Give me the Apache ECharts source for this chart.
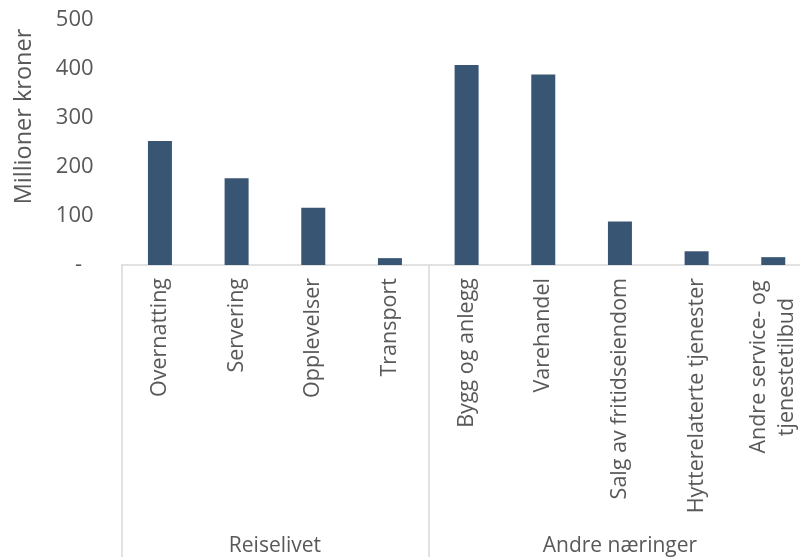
<!DOCTYPE html>
<html>
<head>
<meta charset="utf-8">
<script src="https://cdn.jsdelivr.net/npm/echarts@6/dist/echarts.min.js"></script>
<style>html,body{margin:0;padding:0;background:#fff}#c{width:800px;height:557px}</style>
</head>
<body>
<div id="c"></div>
<script>
const categories = ['Overnatting','Servering','Opplevelser','Transport','Bygg og anlegg','Varehandel','Salg av fritidseiendom','Hytterelaterte tjenester','Andre service- og\ntjenestetilbud'];
const values = [253,177,117,14,408,389,89,28,16];
const groups = ['Reiselivet','Andre næringer'];
const groupSizes = [4,5];
const yMax = 500;
const yStep = 100;

const boundaries = [0];
const groupCenters = [];
groupSizes.forEach((n, i) => { groupCenters.push(boundaries[i] + n / 2); boundaries.push(boundaries[i] + n); });

const TXT = '#595959', LINE = '#d9d9d9', FONT = 'Open Sans';
const chart = echarts.init(document.getElementById('c'), null, {renderer: 'canvas'});
chart.setOption({
  animation: false,
  grid: {left: 121.6, width: 690, top: 20, bottom: 292, outerBoundsMode: 'none', containLabel: false},
  xAxis: [{
    type: 'category', data: categories, position: 'bottom',
    axisLine: {show: true, lineStyle: {color: LINE, width: 1.5}},
    axisTick: {show: false},
    axisLabel: {
      rotate: 90, interval: 0, margin: 13, color: TXT, fontFamily: FONT, fontSize: 21.5, lineHeight: 28,
      formatter: v => v.indexOf('\n') >= 0 ? v.split('\n').map(l => '{c|' + l + '}').join('\n') : v,
      rich: {c: {width: 178, align: 'center', color: TXT, fontFamily: FONT, fontSize: 21.5, lineHeight: 28}}
    }
  }, {
    type: 'value', min: 0, max: categories.length, position: 'bottom',
    axisLine: {show: false}, splitLine: {show: false},
    axisTick: {show: true, customValues: boundaries, length: 300, lineStyle: {color: LINE, width: 1.5}},
    axisLabel: {
      customValues: groupCenters, margin: 271, color: TXT, fontFamily: FONT, fontSize: 21,
      formatter: v => { const i = groupCenters.indexOf(v); return i >= 0 ? groups[i] : ''; }
    }
  }],
  yAxis: {
    type: 'value', min: 0, max: yMax, interval: yStep,
    name: 'Millioner kroner', nameLocation: 'middle', nameGap: 85, nameRotate: 90,
    nameTextStyle: {color: TXT, fontFamily: FONT, fontSize: 23.5, padding: [0, 0, 0, 52]},
    axisLine: {show: false}, axisTick: {show: false}, splitLine: {show: false},
    axisLabel: {color: TXT, fontFamily: FONT, fontSize: 22, margin: 28, formatter: v => v === 0 ? '-  ' : String(v)}
  },
  series: [{
    type: 'bar', data: values, xAxisIndex: 0, barWidth: 24,
    itemStyle: {color: '#385573'}
  }]
});
</script>
</body>
</html>
